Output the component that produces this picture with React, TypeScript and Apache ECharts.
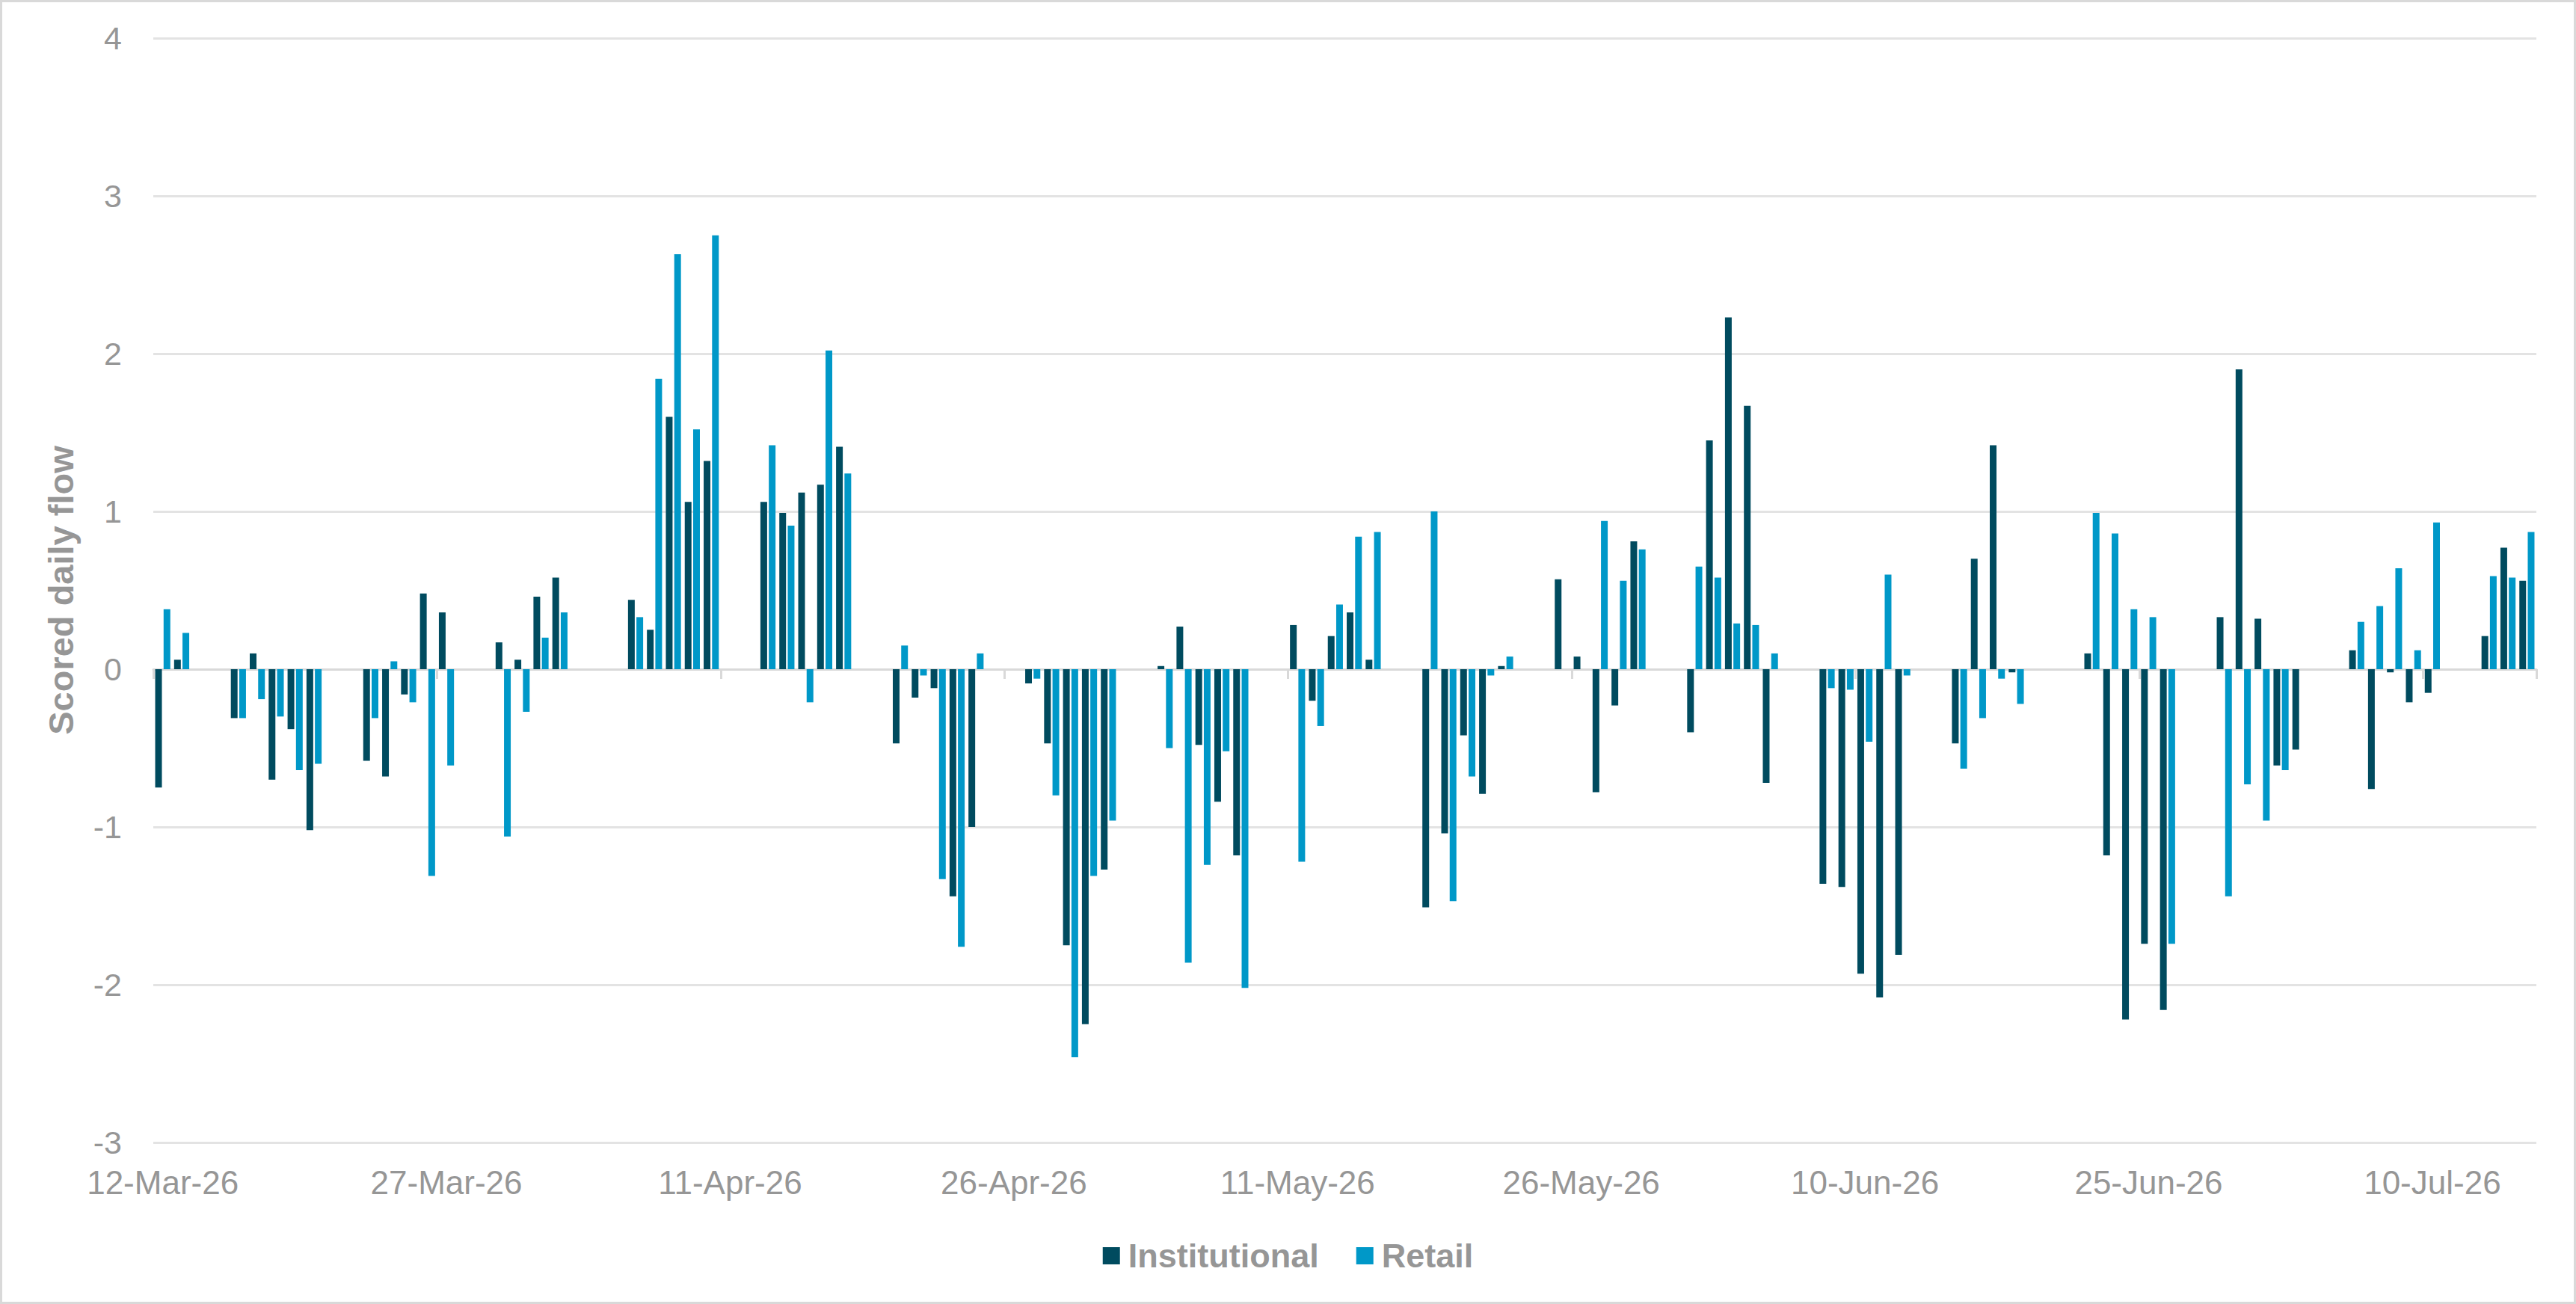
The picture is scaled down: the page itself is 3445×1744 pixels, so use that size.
import React, { useEffect, useRef } from 'react'
import * as echarts from 'echarts'

// one entry per calendar day from 12-Mar-26, null = weekend / holiday
const startDate = new Date(2026, 2, 12)
const dayCount = 126

const institutional = [
  -0.75, 0.06, null, null, -0.31, 0.10, -0.70, -0.38, -1.02, null,
  null, -0.58, -0.68, -0.16, 0.48, 0.36, null, null, 0.17, 0.06,
  0.46, 0.58, null, null, null, 0.44, 0.25, 1.60, 1.06, 1.32,
  null, null, 1.06, 0.99, 1.12, 1.17, 1.41, null, null, -0.47,
  -0.18, -0.12, -1.44, -1.00, null, null, -0.09, -0.47, -1.75, -2.25,
  -1.27, null, null, 0.02, 0.27, -0.48, -0.84, -1.18, null, null,
  0.28, -0.20, 0.21, 0.36, 0.06, null, null, -1.51, -1.04, -0.42,
  -0.79, 0.02, null, null, 0.57, 0.08, -0.78, -0.23, 0.81, null,
  null, -0.40, 1.45, 2.23, 1.67, -0.72, null, null, -1.36, -1.38,
  -1.93, -2.08, -1.81, null, null, -0.47, 0.70, 1.42, -0.02, null,
  null, null, 0.10, -1.18, -2.22, -1.74, -2.16, null, null, 0.33,
  1.90, 0.32, -0.61, -0.51, null, null, 0.12, -0.76, -0.02, -0.21,
  -0.15, null, null, 0.21, 0.77, 0.56
]

const retail = [
  0.38, 0.23, null, null, -0.31, -0.19, -0.30, -0.64, -0.60, null,
  null, -0.31, 0.05, -0.21, -1.31, -0.61, null, null, -1.06, -0.27,
  0.20, 0.36, null, null, null, 0.33, 1.84, 2.63, 1.52, 2.75,
  null, null, 1.42, 0.91, -0.21, 2.02, 1.24, null, null, 0.15,
  -0.04, -1.33, -1.76, 0.10, null, null, -0.06, -0.80, -2.46, -1.31,
  -0.96, null, null, -0.50, -1.86, -1.24, -0.52, -2.02, null, null,
  -1.22, -0.36, 0.41, 0.84, 0.87, null, null, 1.00, -1.47, -0.68,
  -0.04, 0.08, null, null, 0, 0, 0.94, 0.56, 0.76, null,
  null, 0.65, 0.58, 0.29, 0.28, 0.10, null, null, -0.12, -0.13,
  -0.46, 0.60, -0.04, null, null, -0.63, -0.31, -0.06, -0.22, null,
  null, null, 0.99, 0.86, 0.38, 0.33, -1.74, null, null, -1.44,
  -0.73, -0.96, -0.64, 0, null, null, 0.30, 0.40, 0.64, 0.12,
  0.93, null, null, 0.59, 0.58, 0.87
]

const yTicks = { min: -3, max: 4, interval: 1 }

const monthNames = ['Jan', 'Feb', 'Mar', 'Apr', 'May', 'Jun', 'Jul', 'Aug', 'Sep', 'Oct', 'Nov', 'Dec']

const buildDates = () => {
  const out: string[] = []
  for (let i = 0; i < dayCount; i++) {
    const d = new Date(startDate.getFullYear(), startDate.getMonth(), startDate.getDate() + i)
    out.push(`${d.getDate()}-${monthNames[d.getMonth()]}-${String(d.getFullYear()).slice(2)}`)
  }
  return out
}

const dates = buildDates()

const grey = '#969696'
const font = 'Arial, "Liberation Sans", sans-serif'

const App: React.FC = () => {
  const chartRef = useRef<HTMLDivElement>(null)

  useEffect(() => {
    if (!chartRef.current) return
    const chart = echarts.init(chartRef.current, null, { renderer: 'svg' })
    chart.setOption({
      animation: false,
      backgroundColor: '#ffffff',
      color: ['#004B5F', '#0098C8'],
      grid: { left: 205, right: 53, top: 51, bottom: 216 },
      graphic: [
        {
          type: 'rect',
          shape: { x: 1.5, y: 1.5, width: 3442, height: 1741 },
          style: { fill: 'none', stroke: '#d9d9d9', lineWidth: 3 },
          silent: true
        }
      ],
      legend: {
        data: ['Institutional', 'Retail'],
        left: 'center',
        top: 1652,
        icon: 'rect',
        itemWidth: 23,
        itemHeight: 23,
        itemGap: 50,
        textStyle: {
          color: grey,
          fontSize: 45,
          fontWeight: 'bold',
          fontFamily: font,
          padding: [0, 0, 0, 6]
        }
      },
      xAxis: [
        {
          type: 'category',
          data: dates,
          position: 'bottom',
          axisLine: { onZero: true, lineStyle: { color: '#d9d9d9', width: 3 } },
          axisTick: { show: true, interval: 14, length: 13, lineStyle: { color: '#d9d9d9', width: 3 } },
          axisLabel: { show: false },
          splitLine: { show: false }
        },
        {
          type: 'category',
          data: dates,
          position: 'bottom',
          axisLine: { show: false, onZero: false },
          axisTick: { show: false },
          axisLabel: {
            interval: 14,
            margin: 31,
            color: grey,
            fontSize: 44,
            fontFamily: font
          },
          splitLine: { show: false }
        }
      ],
      yAxis: {
        type: 'value',
        ...yTicks,
        name: 'Scored daily flow',
        nameLocation: 'middle',
        nameRotate: 90,
        nameGap: 100,
        nameTextStyle: { color: grey, fontSize: 47, fontWeight: 'bold', fontFamily: font },
        axisLine: { show: false },
        axisTick: { show: false },
        axisLabel: { margin: 42, color: grey, fontSize: 43, fontFamily: font },
        splitLine: { lineStyle: { color: '#e3e3e3', width: 3 } }
      },
      series: [
        {
          name: 'Institutional',
          type: 'bar',
          xAxisIndex: 0,
          data: institutional,
          barGap: '25%',
          barCategoryGap: '20%'
        },
        {
          name: 'Retail',
          type: 'bar',
          xAxisIndex: 0,
          data: retail,
          barGap: '25%',
          barCategoryGap: '20%'
        }
      ]
    })
    return () => {
      chart.dispose()
    }
  }, [])

  return (
    <div
      ref={chartRef}
      style={{ position: 'fixed', left: 0, top: 0, width: 3445, height: 1744, background: '#fff' }}
    />
  )
}

export default App
